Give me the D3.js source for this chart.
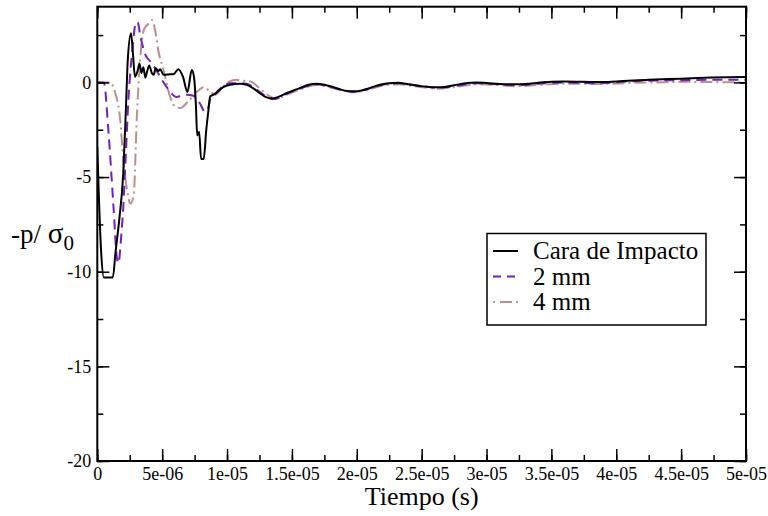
<!DOCTYPE html>
<html><head><meta charset="utf-8">
<script src="https://cdn.jsdelivr.net/npm/d3@7"></script>
<style>body{margin:0;background:#fff}svg{display:block}svg text{font-family:'Liberation Serif','Tinos','Times New Roman','DejaVu Serif',serif}</style>
</head><body>
<script>
// time in microseconds, value = -p/sigma0
const seriesNames = ["Cara de Impacto", "2 mm", "4 mm"];
const caraT = [0,0.3,0.5,1.2,1.4,1.7,2.0,2.2,2.35,2.6,2.75,2.9,3.1,3.25,3.4,3.55,3.7,3.85,4.0,4.2,4.35,4.5,4.7,4.85,5.1,5.5,5.9,6.25,6.6,6.95,7.28,7.45,7.6,7.7,7.85,8.0,8.2,8.4,8.57,8.7,9.1,9.7,10.25,11.0,11.5,12.0,12.5,13.0,13.5,14.0,14.6,15.6,16.3,16.9,17.5,18.2,19.0,19.7,20.4,21.0,21.8,22.5,23.2,24.0,25.0,25.9,26.6,27.5,28.5,29.2,30.0,31.0,32.0,33.0,34.0,35.0,36.0,38.7,40.0,42.5,45.0,47.4,50.0];
const caraV = [-3.4,-9.0,-10.3,-10.3,-9.0,-7.2,-4.8,-1.5,1.2,2.6,1.5,0.3,0.6,1.0,0.5,0.8,0.25,0.6,0.9,0.5,0.4,0.75,0.6,0.7,0.4,0.42,0.45,0.7,0.3,-0.5,0.65,0.3,-1.2,-2.8,-2.6,-4.05,-4.05,-2.5,-1.45,-0.74,-0.6,-0.25,-0.12,-0.07,-0.12,-0.3,-0.56,-0.78,-0.85,-0.75,-0.56,-0.3,-0.12,-0.07,-0.12,-0.25,-0.42,-0.47,-0.42,-0.3,-0.12,-0.04,-0.02,-0.1,-0.2,-0.25,-0.25,-0.15,-0.03,0.0,-0.03,-0.08,-0.1,-0.08,-0.02,0.04,0.05,0.02,0.05,0.14,0.2,0.26,0.28];
const mm2T = [0,0.5,0.87,1.25,1.5,1.64,1.8,2.0,2.2,2.4,2.7,2.95,3.1,3.33,3.7,4.1,4.5,4.85,5.2,5.6,6.1,6.5,6.9,7.4,7.9,8.3,8.5,8.7,9.2,9.7,10.2,11.0,11.5,12.3,13.3,13.6,14.6,15.6,16.9,18.2,19.7,20.7,21.8,23.2,24.5,26.2,27.5,29.2,30.5,32.3,34.0,36.0,38.7,41.0,43.0,45.0,47.4,50.0];
const mm2V = [0,0,-2.7,-6.6,-9.2,-9.55,-8.5,-6.6,-3.8,-0.9,1.7,3.1,3.2,2.4,1.47,1.1,0.7,0.3,-0.1,-0.48,-0.77,-0.7,-0.65,-0.7,-1.1,-1.55,-1.45,-0.9,-0.5,-0.2,-0.05,-0.04,-0.07,-0.39,-0.85,-0.88,-0.6,-0.33,-0.1,-0.28,-0.5,-0.37,-0.15,-0.05,-0.15,-0.28,-0.2,-0.05,-0.08,-0.15,-0.07,0.0,-0.04,0.06,0.1,0.12,0.14,0.14];
const mm4T = [0,1.0,1.38,1.77,2.0,2.3,2.54,2.8,3.05,3.3,3.6,3.95,4.2,4.5,4.7,5.1,5.6,6.0,6.4,7.0,7.7,8.2,8.7,9.1,9.7,10.2,10.7,11.0,11.8,12.5,13.3,13.8,14.6,15.6,16.9,18.2,19.7,20.7,21.8,23.2,24.5,26.2,27.5,29.2,30.5,32.3,34.0,36.0,38.7,41.0,43.0,45.0,47.4,50.0];
const mm4V = [0,0,-0.56,-2.0,-4.1,-5.7,-6.4,-6.0,-1.8,1.2,2.8,3.1,3.3,2.6,1.7,0.67,-0.74,-1.27,-1.35,-1.0,-0.48,-0.25,-0.48,-0.65,-0.2,0.05,0.14,0.1,0.05,-0.3,-0.74,-0.88,-0.65,-0.38,-0.13,-0.3,-0.52,-0.42,-0.2,-0.1,-0.2,-0.33,-0.25,-0.1,-0.12,-0.2,-0.13,-0.07,-0.08,-0.03,0.0,0.03,0.02,0.0];
const xTicks = [0,5e-6,1e-5,1.5e-5,2e-5,2.5e-5,3e-5,3.5e-5,4e-5,4.5e-5,5e-5];
const xTickLabels = ["0","5e-06","1e-05","1.5e-05","2e-05","2.5e-05","3e-05","3.5e-05","4e-05","4.5e-05","5e-05"];
const yTicks = [-20,-15,-10,-5,0];
const yTickLabels = ["-20","-15","-10","-5","0"];
const colors = ["#000000","#7221bc","#bc8f8f"];
const dashes = [null,"10,6","12,4,2,4"];

const W=768,H=516;
const L=97.3,R=746,T=6.7,B=461;
const FF="'Liberation Serif','Tinos','Times New Roman','DejaVu Serif',serif";
const svg=d3.select("body").append("svg").attr("width",W).attr("height",H);
const x=d3.scaleLinear().domain([0,5e-5]).range([L,R]);
const y=d3.scaleLinear().domain([-20,4]).range([B,T]);

const data=[[caraT,caraV],[mm2T,mm2V],[mm4T,mm4V]].map(([t,v])=>t.map((ti,i)=>({t:ti*1e-6,v:v[i]})));

svg.append("clipPath").attr("id","c").append("rect").attr("x",L).attr("y",T).attr("width",R-L).attr("height",B-T);
const line=d3.line().x(d=>x(d.t)).y(d=>y(d.v)).curve(d3.curveMonotoneX);
const g=svg.append("g").attr("clip-path","url(#c)");
[2,1,0].forEach(i=>{
  g.append("path").datum(data[i]).attr("d",line).attr("fill","none")
   .attr("stroke",colors[i]).attr("stroke-width",2).attr("stroke-dasharray",dashes[i]);
});

const minorX=d3.range(0,5.01e-5,2.5e-6), minorY=d3.range(-20,4.01,2.5);
const fmtX=d=>xTickLabels[xTicks.findIndex(v=>Math.abs(v-d)<1e-12)];
const fmtY=d=>yTickLabels[yTicks.indexOf(d)];
function styl(a){a.select(".domain").remove();a.selectAll("line").attr("stroke","#000").attr("stroke-width",1.5);a.selectAll("text").style("font-family",FF).attr("font-size",18).attr("fill","#000");}
svg.append("g").attr("transform",`translate(0,${B})`).call(d3.axisBottom(x).tickValues(minorX).tickSize(-6).tickFormat("")).call(styl);
svg.append("g").attr("transform",`translate(0,${B})`).call(d3.axisBottom(x).tickValues(xTicks).tickSize(-12).tickPadding(6).tickFormat(fmtX)).call(styl);
svg.append("g").attr("transform",`translate(0,${T})`).call(d3.axisTop(x).tickValues(minorX).tickSize(-6).tickFormat("")).call(styl);
svg.append("g").attr("transform",`translate(0,${T})`).call(d3.axisTop(x).tickValues(xTicks).tickSize(-12).tickFormat("")).call(styl);
svg.append("g").attr("transform",`translate(${L},0)`).call(d3.axisLeft(y).tickValues(minorY).tickSize(-6).tickFormat("")).call(styl);
svg.append("g").attr("transform",`translate(${L},0)`).call(d3.axisLeft(y).tickValues(yTicks).tickSize(-12).tickPadding(6).tickFormat(fmtY)).call(styl);
svg.append("g").attr("transform",`translate(${R},0)`).call(d3.axisRight(y).tickValues(minorY).tickSize(-6).tickFormat("")).call(styl);
svg.append("g").attr("transform",`translate(${R},0)`).call(d3.axisRight(y).tickValues(yTicks).tickSize(-12).tickFormat("")).call(styl);
svg.append("rect").attr("x",L).attr("y",T).attr("width",R-L).attr("height",B-T).attr("fill","none").attr("stroke","#000").attr("stroke-width",2);

// axis titles
svg.append("text").attr("x",(L+R)/2).attr("y",505).attr("text-anchor","middle").style("font-family",FF).attr("font-size",26).text("Tiempo (s)");
const yl=svg.append("text").attr("x",11).attr("y",243).style("font-family",FF).attr("font-size",27);
yl.append("tspan").text("-p/ ");
yl.append("tspan").attr("font-size",29).text("σ");
yl.append("tspan").attr("font-size",21).attr("dy",7).text("0");

// legend
const lg=svg.append("g");
lg.append("rect").attr("x",487).attr("y",233.5).attr("width",219).attr("height",91.5).attr("fill","#fff").attr("stroke","#000").attr("stroke-width",1.5);
seriesNames.forEach((n,i)=>{
  const yy=251+i*25.5;
  lg.append("line").attr("x1",493).attr("x2",518).attr("y1",yy).attr("y2",yy).attr("stroke",colors[i]).attr("stroke-width",2).attr("stroke-dasharray",i==1?"8,6":(i==2?"2,5,12,4":null));
  lg.append("text").attr("x",533).attr("y",yy+8).style("font-family",FF).attr("font-size",25).text(n);
});
</script>
</body></html>
